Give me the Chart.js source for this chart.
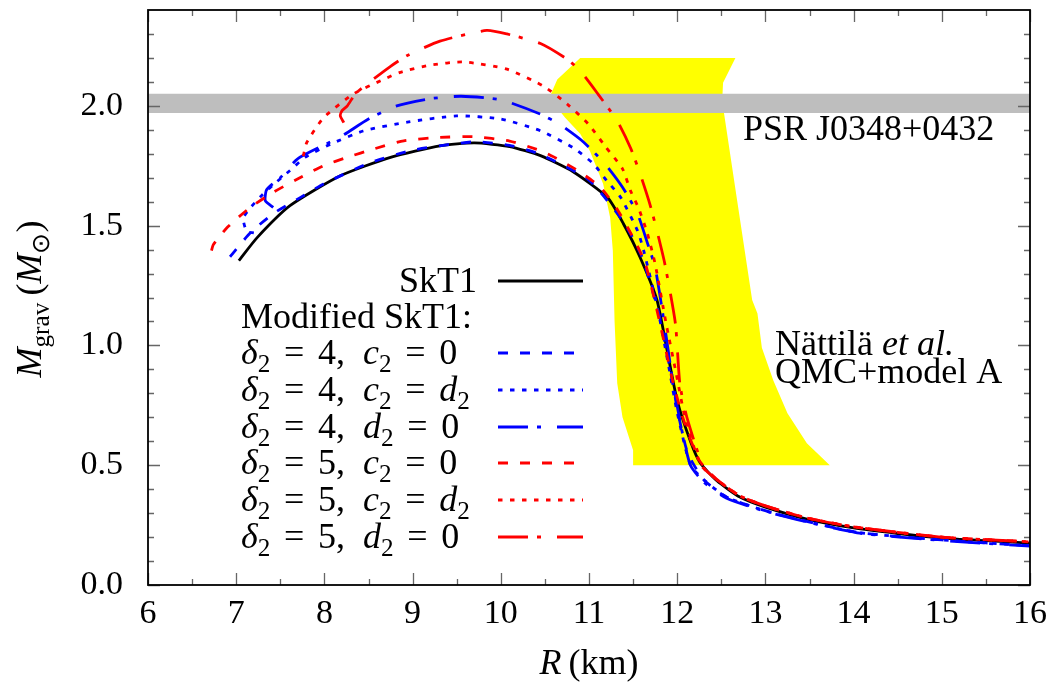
<!DOCTYPE html>
<html>
<head>
<meta charset="utf-8">
<script src="https://cdn.jsdelivr.net/npm/chart.js@4.4.1/dist/chart.umd.min.js"></script>
<style>
html, body { margin: 0; padding: 0; background: #fff; }
canvas { display: block; }
</style>
</head>
<body>
<canvas id="massRadius" width="1052" height="683"></canvas>
<script>
// mass-radius curves, R in km, M in solar masses
var rSkT1 = [7.03, 7.24, 7.61, 8.18, 8.75, 9.31, 9.7, 10.1, 10.45, 10.82, 11.21, 11.39, 11.58, 11.77, 11.88, 12.0, 12.15, 12.26, 12.45, 12.71, 13.0, 13.47, 14.0, 14.5, 15.0, 15.5, 16.0];
var mSkT1 = [1.354, 1.451, 1.583, 1.708, 1.785, 1.833, 1.845, 1.83, 1.792, 1.725, 1.617, 1.508, 1.367, 1.19, 0.99, 0.77, 0.6, 0.51, 0.435, 0.367, 0.325, 0.275, 0.238, 0.215, 0.196, 0.185, 0.175];

var rD4c0 = [6.93, 7.16, 7.42, 7.73, 7.99, 8.5, 9.0, 9.7, 10.1, 10.45, 11.0, 11.4, 11.6, 11.8, 11.92, 12.02, 12.12, 12.3, 12.56, 13.09, 14.04, 15.0, 16.0];
var mD4c0 = [1.37, 1.47, 1.55, 1.618, 1.674, 1.76, 1.815, 1.85, 1.835, 1.797, 1.69, 1.51, 1.37, 1.12, 0.9, 0.7, 0.55, 0.44, 0.367, 0.3, 0.22, 0.188, 0.164];

var rD4cd = [7.2, 7.12, 7.08, 7.15, 7.3, 7.45, 7.61, 7.78, 8.07, 8.44, 8.94, 9.5, 10.0, 10.45, 10.82, 11.05, 11.2, 11.36, 11.55, 11.62, 11.78, 11.9, 12.0, 12.15, 12.3, 12.56, 13.09, 14.04, 15.0, 16.0];
var mD4cd = [1.47, 1.475, 1.53, 1.57, 1.63, 1.68, 1.73, 1.785, 1.84, 1.895, 1.932, 1.958, 1.945, 1.896, 1.825, 1.758, 1.688, 1.617, 1.479, 1.396, 1.15, 0.92, 0.72, 0.5, 0.44, 0.367, 0.3, 0.22, 0.188, 0.164];

var rD4d0 = [7.42, 7.33, 7.34, 7.39, 7.5, 7.7, 8.18, 8.5, 8.82, 9.2, 9.55, 10.0, 10.45, 10.67, 10.94, 11.18, 11.38, 11.55, 11.66, 11.75, 11.85, 11.95, 12.05, 12.15, 12.3, 12.56, 13.09, 14.04, 15.0, 16.0];
var mD4d0 = [1.576, 1.604, 1.646, 1.667, 1.7, 1.78, 1.87, 1.945, 2.0, 2.03, 2.04, 2.025, 1.965, 1.922, 1.848, 1.758, 1.66, 1.55, 1.43, 1.325, 1.1, 0.85, 0.65, 0.5, 0.43, 0.362, 0.298, 0.218, 0.186, 0.162];

var rD5c0 = [6.72, 6.74, 6.9, 7.16, 7.42, 7.69, 7.99, 8.26, 8.56, 8.9, 9.3, 9.69, 10.1, 10.45, 10.6, 10.88, 11.13, 11.33, 11.5, 11.64, 11.8, 11.95, 12.08, 12.25, 12.45, 12.71, 13.0, 13.47, 14.0, 15.0, 16.0];
var mD5c0 = [1.396, 1.42, 1.493, 1.576, 1.639, 1.694, 1.75, 1.785, 1.82, 1.854, 1.868, 1.871, 1.853, 1.813, 1.787, 1.728, 1.66, 1.562, 1.45, 1.34, 1.1, 0.85, 0.68, 0.52, 0.44, 0.372, 0.33, 0.28, 0.243, 0.2, 0.18];

var rD5cd = [7.76, 7.8, 7.99, 8.33, 8.67, 8.86, 9.2, 9.58, 10.07, 10.48, 10.75, 10.99, 11.18, 11.38, 11.47, 11.56, 11.66, 11.75, 11.87, 11.99, 12.1, 12.27, 12.45, 12.71, 13.0, 13.47, 14.0, 15.0, 16.0];
var mD5cd = [1.79, 1.847, 1.95, 2.05, 2.11, 2.14, 2.17, 2.183, 2.153, 2.083, 2.008, 1.925, 1.833, 1.737, 1.646, 1.575, 1.47, 1.34, 1.1, 0.88, 0.68, 0.5, 0.44, 0.372, 0.33, 0.28, 0.243, 0.2, 0.18];

var rD5d0 = [8.22, 8.18, 8.2, 8.26, 8.35, 8.48, 8.75, 8.94, 9.31, 9.84, 10.07, 10.45, 10.75, 10.9, 11.1, 11.32, 11.47, 11.58, 11.69, 11.77, 11.86, 11.98, 12.03, 12.11, 12.3, 12.45, 12.71, 13.0, 13.47, 14.0, 15.0, 16.0];
var mD5d0 = [1.93, 1.958, 1.98, 2.0, 2.05, 2.09, 2.165, 2.21, 2.27, 2.315, 2.3, 2.26, 2.195, 2.146, 2.05, 1.937, 1.825, 1.716, 1.59, 1.479, 1.34, 1.09, 0.84, 0.7, 0.49, 0.44, 0.372, 0.33, 0.28, 0.243, 0.2, 0.18];

// Nattila et al. QMC+model A region (outline)
var rQmc = [10.9, 12.66, 12.52, 12.51, 12.68, 12.85, 12.91, 12.96, 13.09, 13.25, 13.47, 13.73, 11.5, 11.5, 11.38, 11.32, 11.29, 11.27, 11.24, 11.16, 11.01, 10.9, 10.73, 10.62, 10.57, 10.64];
var mQmc = [2.2, 2.2, 2.096, 2.02, 1.604, 1.19, 1.133, 0.99, 0.854, 0.717, 0.592, 0.5, 0.5, 0.562, 0.7, 0.842, 1.1, 1.396, 1.533, 1.675, 1.812, 1.883, 1.95, 2.0, 2.05, 2.11];

// PSR J0348+0432 mass band
var psrBand = [1.97, 2.05];

var xTicks = [6, 7, 8, 9, 10, 11, 12, 13, 14, 15, 16];
var yTicks = [0, 0.5, 1.0, 1.5, 2.0];
var yMax = 2.4;

var FONT = '"Liberation Serif", "Times New Roman", serif';
var FS = 36;      // key, notes, axis titles
var TICK_FS = 34; // tick numbers

function pts(rs, ms) {
    return rs.map(function(r, i) { return { x: r, y: ms[i] }; });
}

function curve(label, rs, ms, color, dash, order) {
    return {
        label: label,
        data: pts(rs, ms),
        borderColor: color,
        borderWidth: 2.8,
        borderDash: dash,
        pointRadius: 0,
        tension: 0.2,
        fill: false,
        order: order
    };
}

var DASHED = [10, 12];
var DOTTED = [4.5, 7.5];
var DASHDOT = [30, 9, 4, 16];

var datasets = [
    curve('SkT1', rSkT1, mSkT1, '#000000', [], 7),
    curve('d2=4, c2=0', rD4c0, mD4c0, '#0000ff', DASHED, 6),
    curve('d2=4, c2=d2', rD4cd, mD4cd, '#0000ff', DOTTED, 5),
    curve('d2=4, d2=0', rD4d0, mD4d0, '#0000ff', DASHDOT, 4),
    curve('d2=5, c2=0', rD5c0, mD5c0, '#ff0000', DASHED, 3),
    curve('d2=5, c2=d2', rD5cd, mD5cd, '#ff0000', DOTTED, 2),
    curve('d2=5, d2=0', rD5d0, mD5d0, '#ff0000', DASHDOT, 1),
    {
        label: 'PSR J0348+0432',
        data: [{ x: xTicks[0], y: psrBand[1] }, { x: xTicks[xTicks.length - 1], y: psrBand[1] }],
        borderColor: 'rgba(0,0,0,0)',
        borderWidth: 0,
        pointRadius: 0,
        backgroundColor: '#bebebe',
        fill: { value: psrBand[0] },
        order: 8
    },
    {
        label: 'QMC+model A',
        data: pts(rQmc, mQmc),
        borderColor: 'rgba(0,0,0,0)',
        borderWidth: 0,
        pointRadius: 0,
        tension: 0,
        backgroundColor: '#ffff00',
        fill: 'shape',
        order: 9
    }
];

// text pieces: r roman, i italic, s subscript, op = with math spacing
function runFont(st) {
    var size = (st === 's') ? FS * 0.7 : FS;
    return (st === 'i' ? 'italic ' : '') + size + 'px ' + FONT;
}
function runWidth(ctx, run) {
    ctx.font = runFont(run[1]);
    var w = ctx.measureText(run[0]).width;
    if (run[1] === 'op') w += FS * 0.76;
    return w;
}
function textWidth(ctx, runs) {
    var w = 0;
    runs.forEach(function(run) { w += runWidth(ctx, run); });
    return w;
}
function drawRuns(ctx, runs, x, y) {
    ctx.textAlign = 'left';
    ctx.textBaseline = 'alphabetic';
    ctx.fillStyle = '#000';
    runs.forEach(function(run) {
        ctx.font = runFont(run[1]);
        var dy = run[1] === 's' ? FS * 0.22 : 0;
        var dx = run[1] === 'op' ? FS * 0.38 : 0;
        ctx.fillText(run[0], x + dx, y + dy);
        x += runWidth(ctx, run);
    });
}

function deltaRow(d, lhs, rhs) {
    var r = [['δ', 'i'], ['2', 's'], ['=', 'op'], [d + ',\u2002', 'r'], [lhs, 'i'], ['2', 's'], ['=', 'op']];
    if (rhs === '0') r.push(['0', 'r']);
    else r.push(['d', 'i'], ['2', 's']);
    return r;
}

var legendRows = [
    { ds: 0, y: 281, runs: [['SkT1', 'r']], right: true },
    { ds: -1, y: 317, runs: [['Modified SkT1:', 'r']] },
    { ds: 1, y: 353, runs: deltaRow('4', 'c', '0') },
    { ds: 2, y: 390, runs: deltaRow('4', 'c', 'd') },
    { ds: 3, y: 427, runs: deltaRow('4', 'd', '0') },
    { ds: 4, y: 463, runs: deltaRow('5', 'c', '0') },
    { ds: 5, y: 500, runs: deltaRow('5', 'c', 'd') },
    { ds: 6, y: 537, runs: deltaRow('5', 'd', '0') }
];

var framePlugin = {
    id: 'frame',
    afterDatasetsDraw: function(chart) {
        var ctx = chart.ctx, a = chart.chartArea;
        var xs = chart.scales.x, ys = chart.scales.y;
        ctx.save();
        ctx.strokeStyle = '#666';
        ctx.lineWidth = 1.3;
        ctx.setLineDash([]);
        ctx.beginPath();
        function xt(v, len) {
            var p = Math.round(xs.getPixelForValue(v)) + 0.5;
            ctx.moveTo(p, a.bottom); ctx.lineTo(p, a.bottom - len);
            ctx.moveTo(p, a.top); ctx.lineTo(p, a.top + len);
        }
        function yt(v, len) {
            var p = Math.round(ys.getPixelForValue(v)) + 0.5;
            ctx.moveTo(a.left, p); ctx.lineTo(a.left + len, p);
            ctx.moveTo(a.right, p); ctx.lineTo(a.right - len, p);
        }
        xTicks.forEach(function(v) { xt(v, 12); });
        for (var i = 0; i < xTicks.length - 1; i++) xt(xTicks[i] + 0.5, 6);
        yTicks.forEach(function(v) { yt(v, 12); });
        for (var k = 1; k <= 23; k++) {
            if (k % 5 !== 0) yt(k / 10, 6);
        }
        ctx.stroke();
        ctx.strokeStyle = '#000';
        ctx.lineWidth = 1.8;
        ctx.strokeRect(a.left, a.top, a.right - a.left, a.bottom - a.top);
        ctx.restore();
    },
    afterDraw: function(chart) {
        var ctx = chart.ctx;
        ctx.save();
        // key
        legendRows.forEach(function(row) {
            if (row.right) drawRuns(ctx, row.runs, 477 - textWidth(ctx, row.runs), row.y + 11);
            else drawRuns(ctx, row.runs, 241, row.y + 11);
            if (row.ds >= 0) {
                var ds = chart.data.datasets[row.ds];
                ctx.strokeStyle = ds.borderColor;
                ctx.lineWidth = ds.borderWidth;
                ctx.setLineDash(ds.borderDash);
                ctx.beginPath();
                ctx.moveTo(498, row.y);
                ctx.lineTo(583, row.y);
                ctx.stroke();
            }
        });
        ctx.setLineDash([]);
        // labels inside the plot
        drawRuns(ctx, [['PSR J0348+0432', 'r']], 743, 140);
        drawRuns(ctx, [['Nättilä ', 'r'], ['et al.', 'i']], 775, 355);
        drawRuns(ctx, [['QMC+model A', 'r']], 775, 383);
        // axis titles
        var xt = [['R', 'i'], ['\u2009(km)', 'r']];
        drawRuns(ctx, xt, 589 - textWidth(ctx, xt) / 2, 674);
        var yt = [['M', 'i'], ['grav', 's'], ['\u2009(', 'r'], ['M', 'i'], ['⊙', 's'], [')', 'r']];
        ctx.translate(41, 299);
        ctx.rotate(-Math.PI / 2);
        drawRuns(ctx, yt, -textWidth(ctx, yt) / 2, 0);
        ctx.restore();
    }
};

new Chart(document.getElementById('massRadius').getContext('2d'), {
    type: 'line',
    data: { datasets: datasets },
    options: {
        responsive: false,
        animation: false,
        devicePixelRatio: 1,
        layout: { padding: { top: 10, right: 22, left: 0, bottom: 0 } },
        plugins: {
            legend: { display: false },
            tooltip: { enabled: false }
        },
        scales: {
            x: {
                type: 'linear',
                min: xTicks[0],
                max: xTicks[xTicks.length - 1],
                grid: { display: false, drawTicks: false },
                border: { display: false },
                afterBuildTicks: function(scale) {
                    scale.ticks = xTicks.map(function(v) { return { value: v }; });
                },
                afterFit: function(scale) {
                    scale.height = 98;
                    scale.paddingLeft = 0;
                    scale.paddingRight = 0;
                    scale.paddingTop = 0;
                    scale.paddingBottom = 0;
                },
                ticks: {
                    autoSkip: false,
                    maxRotation: 0,
                    padding: 9,
                    color: '#000',
                    font: { family: FONT, size: TICK_FS },
                    callback: function(v) { return String(v); }
                }
            },
            y: {
                type: 'linear',
                min: 0,
                max: yMax,
                grid: { display: false, drawTicks: false },
                border: { display: false },
                afterBuildTicks: function(scale) {
                    scale.ticks = yTicks.map(function(v) { return { value: v }; });
                },
                afterFit: function(scale) {
                    scale.width = 148;
                    scale.paddingTop = 0;
                    scale.paddingBottom = 0;
                    scale.paddingLeft = 0;
                    scale.paddingRight = 0;
                },
                ticks: {
                    padding: 25,
                    color: '#000',
                    font: { family: FONT, size: TICK_FS },
                    callback: function(v) { return v.toFixed(1); }
                }
            }
        }
    },
    plugins: [framePlugin]
});
</script>
</body>
</html>
